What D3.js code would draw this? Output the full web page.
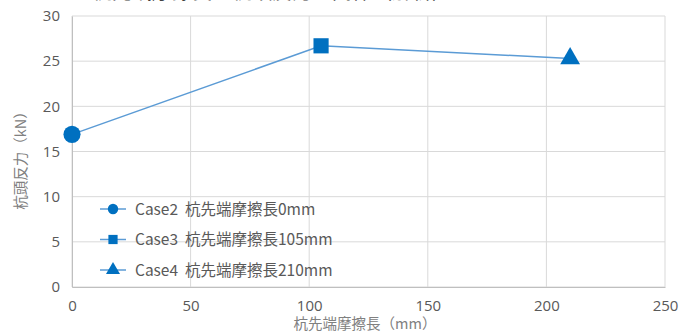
<!DOCTYPE html>
<html>
<head>
<meta charset="utf-8">
<script src="https://cdn.jsdelivr.net/npm/d3@7"></script>
<style>
  body { margin: 0; background: #fff; }
  svg text { font-family: "Noto Sans CJK JP", "Noto Sans", sans-serif; }
</style>
</head>
<body>
<svg id="chart" width="682" height="332"></svg>
<script>
// data
const lengths = [0, 105, 210];
const reactions = [16.9, 26.7, 25.3];
const caseNames = ["Case2  杭先端摩擦長0mm", "Case3  杭先端摩擦長105mm", "Case4  杭先端摩擦長210mm"];
const markerTypes = [d3.symbolCircle, d3.symbolSquare, d3.symbolTriangle];
const xTicks = [0, 50, 100, 150, 200, 250];
const yTicks = [0, 5, 10, 15, 20, 25, 30];

const margin = { left: 72, right: 17, top: 16, bottom: 45 };
const width = 682, height = 332;

const svg = d3.select("#chart");

const xScale = d3.scaleLinear().domain([0, 250]).range([margin.left, width - margin.right]);
const yScale = d3.scaleLinear().domain([0, 30]).range([height - margin.bottom, margin.top]);

// title (cut off at the top edge, as in the reference)
svg.append("text")
    .attr("x", 272).attr("y", -1.5)
    .attr("text-anchor", "middle")
    .attr("font-size", 20)
    .attr("fill", "#404040")
    .text("杭先端摩擦長と杭頭反力の関係（解析）");

// grid
const grid = svg.append("g");
grid.selectAll(".vx").data(xTicks).enter().append("line")
    .attr("x1", d => xScale(d)).attr("x2", d => xScale(d))
    .attr("y1", yScale(0)).attr("y2", yScale(30))
    .attr("stroke", "#d9d9d9").attr("stroke-width", 1);
grid.selectAll(".hy").data(yTicks).enter().append("line")
    .attr("x1", xScale(0)).attr("x2", xScale(250))
    .attr("y1", d => yScale(d)).attr("y2", d => yScale(d))
    .attr("stroke", "#d9d9d9").attr("stroke-width", 1);

// axes
const xAxis = svg.append("g")
    .attr("transform", `translate(0, ${yScale(0)})`)
    .call(d3.axisBottom(xScale).tickValues(xTicks).tickSize(0).tickPadding(13));
const yAxis = svg.append("g")
    .attr("transform", `translate(${xScale(0)}, 0)`)
    .call(d3.axisLeft(yScale).tickValues(yTicks).tickSize(0).tickPadding(12));
[xAxis, yAxis].forEach(a => {
    a.select(".domain").attr("stroke", "#bfbfbf");
    a.selectAll("text").attr("fill", "#595959").attr("font-size", 15)
        .style("font-family", "'Open Sans', 'Noto Sans', sans-serif");
});

// axis titles
svg.append("text")
    .attr("x", 365).attr("y", 329)
    .attr("text-anchor", "middle")
    .attr("font-size", 14.5)
    .attr("fill", "#808080")
    .text("杭先端摩擦長（mm）");
svg.append("text")
    .attr("transform", `translate(26, 157) rotate(-90)`)
    .attr("text-anchor", "middle")
    .attr("font-size", 14.5)
    .attr("fill", "#808080")
    .text("杭頭反力（kN）");

// line
const pts = lengths.map((d, i) => ({ x: d, y: reactions[i], m: markerTypes[i] }));
svg.append("path")
    .datum(pts)
    .attr("fill", "none")
    .attr("stroke", "#5b9bd5")
    .attr("stroke-width", 1.5)
    .attr("d", d3.line().x(d => xScale(d.x)).y(d => yScale(d.y)));

svg.selectAll(".pt").data(pts).enter().append("path")
    .attr("transform", d => `translate(${xScale(d.x)}, ${yScale(d.y)})`)
    .attr("d", d => d3.symbol().type(d.m).size(d.m === d3.symbolTriangle ? 170 : 230)())
    .attr("fill", "#0070c0");

// legend
const legend = svg.append("g").attr("transform", "translate(100, 209)");
const rows = legend.selectAll("g").data(caseNames).enter().append("g")
    .attr("transform", (d, i) => `translate(0, ${i * 30.5})`);
rows.append("line")
    .attr("x1", 0).attr("x2", 26).attr("y1", 0).attr("y2", 0)
    .attr("stroke", "#5b9bd5").attr("stroke-width", 1.5);
rows.append("path")
    .attr("transform", "translate(13, 0)")
    .attr("d", (d, i) => d3.symbol().type(markerTypes[i]).size(85)())
    .attr("fill", "#0070c0");
rows.append("text")
    .attr("x", 35).attr("y", 5.5)
    .attr("font-size", 15.5)
    .attr("fill", "#595959")
    .style("white-space", "pre")
    .text(d => d);
</script>
</body>
</html>
